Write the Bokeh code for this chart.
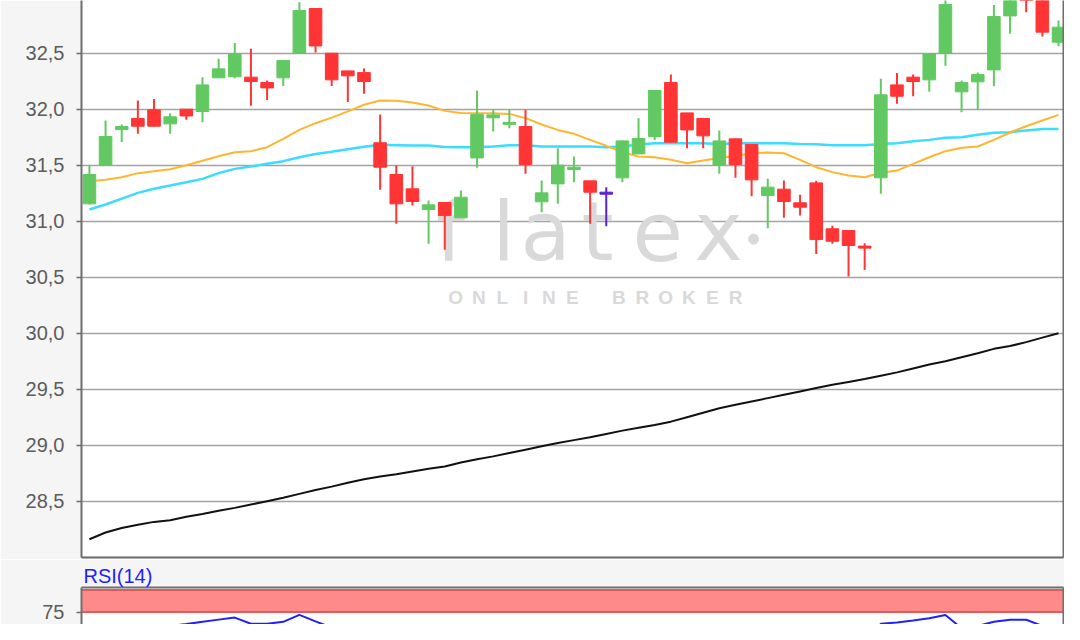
from bokeh.plotting import figure
from bokeh.layouts import column
from bokeh.models import (Range1d, FixedTicker, BoxAnnotation, Span, ColumnDataSource,
                          CustomJSTickFormatter, LinearAxis)
from bokeh.embed import file_html
from bokeh.resources import INLINE
from bokeh.core.properties import value

# ---------------- data ----------------
opens = [31.155, 31.50, 31.818, 31.917, 31.994, 31.869, 32.00, 31.979, 32.28, 32.29,
         32.286, 32.238, 32.28, 32.50, 32.899, 32.50, 32.342, 32.327, 31.70, 31.417,
         31.289, 31.104, 31.167, 31.03, 31.565, 31.923, 31.869, 31.845, 31.173, 31.333,
         31.461, 31.36, 31.25, 31.387, 31.601, 31.756, 32.238, 31.967, 31.917, 31.50,
         31.735, 31.685, 31.229, 31.286, 31.164, 31.342, 30.932, 30.917, 30.772, 31.387,
         32.217, 32.286, 32.262, 32.50, 32.155, 32.244, 32.351, 32.833, 33.15, 33.05,
         32.598]
highs = [31.505, 31.90, 31.863, 32.077, 32.092, 31.964, 32.00, 32.286, 32.45, 32.592,
         32.539, 32.256, 32.435, 32.955, 32.90, 32.50, 32.342, 32.363, 31.952, 31.50,
         31.49, 31.185, 31.167, 31.274, 32.167, 31.997, 31.997, 31.994, 31.363, 31.652,
         31.577, 31.36, 31.304, 31.72, 31.92, 32.167, 32.31, 31.967, 31.917, 31.81,
         31.735, 31.685, 31.378, 31.363, 31.235, 31.36, 30.96, 30.917, 30.804, 32.271,
         32.324, 32.31, 32.50, 33.00, 32.256, 32.327, 32.93, 33.10, 33.20, 33.10,
         32.792]
lows = [31.15, 31.50, 31.708, 31.78, 31.845, 31.78, 31.905, 31.884, 32.28, 32.277,
        32.03, 32.083, 32.208, 32.50, 32.506, 32.208, 32.065, 32.137, 31.28, 30.976,
        31.14, 30.798, 30.744, 31.03, 31.476, 31.80, 31.83, 31.423, 31.08, 31.155,
        31.348, 30.976, 30.955, 31.348, 31.60, 31.726, 31.705, 31.652, 31.652, 31.423,
        31.387, 31.223, 30.9375, 31.03, 31.05, 30.708, 30.798, 30.506, 30.565, 31.244,
        32.048, 32.116, 32.155, 32.387, 31.973, 31.994, 32.205, 32.673, 32.866, 32.649,
        32.5625]
closes = [31.417, 31.756, 31.845, 31.848, 31.848, 31.932, 31.94, 32.217, 32.36, 32.494,
          32.247, 32.19, 32.435, 32.881, 32.565, 32.262, 32.298, 32.247, 31.482, 31.155,
          31.176, 31.146, 31.05, 31.214, 31.952, 31.949, 31.878, 31.506, 31.253, 31.50,
          31.482, 31.259, 31.25, 31.717, 31.738, 32.167, 31.705, 31.815, 31.762, 31.717,
          31.506, 31.369, 31.304, 31.176, 31.125, 30.836, 30.821, 30.783, 30.765, 32.128,
          32.116, 32.247, 32.494, 32.935, 32.238, 32.31, 32.827, 33.05, 33.00, 32.688,
          32.732]

ma_orange = [31.357, 31.369, 31.393, 31.429, 31.446, 31.464, 31.50, 31.539, 31.58, 31.616,
             31.625, 31.661, 31.735, 31.815, 31.875, 31.925, 31.98, 32.04, 32.077, 32.075,
             32.06, 32.033, 31.985, 31.967, 31.964, 31.964, 31.958, 31.92, 31.863, 31.815,
             31.78, 31.726, 31.673, 31.616, 31.577, 31.571, 31.548, 31.518, 31.542, 31.565,
             31.583, 31.607, 31.613, 31.607, 31.548, 31.482, 31.438, 31.408, 31.393, 31.432,
             31.452, 31.512, 31.571, 31.625, 31.655, 31.667, 31.726, 31.792, 31.848, 31.899,
             31.949]
ma_cyan = [31.104, 31.149, 31.202, 31.253, 31.289, 31.318, 31.348, 31.378, 31.429, 31.467,
           31.488, 31.512, 31.536, 31.571, 31.60, 31.62, 31.643, 31.665, 31.682, 31.679,
           31.676, 31.676, 31.663, 31.661, 31.661, 31.667, 31.679, 31.679, 31.667, 31.667,
           31.667, 31.667, 31.661, 31.667, 31.685, 31.696, 31.696, 31.696, 31.696, 31.69,
           31.696, 31.696, 31.696, 31.696, 31.69, 31.688, 31.679, 31.679, 31.679, 31.69,
           31.696, 31.714, 31.726, 31.744, 31.75, 31.771, 31.789, 31.795, 31.81, 31.824,
           31.824]
ma_black = [28.16, 28.22, 28.26, 28.29, 28.315, 28.33, 28.36, 28.385, 28.415, 28.44,
            28.47, 28.50, 28.53, 28.565, 28.60, 28.63, 28.665, 28.695, 28.72, 28.74,
            28.765, 28.79, 28.81, 28.845, 28.875, 28.90, 28.93, 28.96, 28.99, 29.02,
            29.045, 29.07, 29.10, 29.13, 29.155, 29.18, 29.21, 29.25, 29.29, 29.33,
            29.36, 29.39, 29.42, 29.45, 29.48, 29.51, 29.54, 29.565, 29.59, 29.62,
            29.65, 29.685, 29.72, 29.75, 29.785, 29.82, 29.86, 29.885, 29.92, 29.96,
            30.00]
rsi14 = [51.6, 55.5, 59.4, 59.4, 59.4, 59.4, 61.5, 64.0, 66.5, 68.8,
         61.8, 61.8, 64.0, 71.8, 64.5, 57.5, 56.5, 55.4, 43.0, 42.0,
         41.0, 41.0, 41.5, 42.0, 54.8, 54.8, 52.0, 46.2, 43.0, 48.4,
         48.4, 43.0, 43.0, 52.4, 52.4, 60.2, 50.4, 52.4, 52.4, 50.5,
         48.5, 46.2, 43.5, 41.4, 41.0, 38.0, 35.0, 33.0, 39.5, 61.8,
         63.3, 65.5, 68.0, 71.8, 56.7, 59.4, 64.0, 66.4, 66.4, 59.4,
         59.4]

price_ticks = [28.5, 29.0, 29.5, 30.0, 30.5, 31.0, 31.5, 32.0, 32.5, 33.0]
price_grid = [28.0] + price_ticks
rsi_ticks = [75]
rsi_grid = [50]
rsi_label = "RSI(14)"
logo_letters = ["f", "l", "a", "t", "e", "x"]
logo_sub = list("ONLINE BROKER")

# ---------------- styling ----------------
GREEN = "#62c962"
RED = "#ff3434"
DOJI = "#5a22d6"
AXIS = "#6e6e6e"
GRID = "#a3a3a3"
BG = "#f5f5f5"
FONT = "Liberation Sans"
WM = "#d9d9d9"

n = len(opens)
idx = list(range(n))
colors, body_top, body_bot = [], [], []
for o, c in zip(opens, closes):
    colors.append(GREEN if c > o else (RED if c < o else DOJI))
    top, bot = max(o, c), min(o, c)
    if top - bot < 0.018:
        mid = (top + bot) / 2
        top, bot = mid + 0.009, mid - 0.009
    body_top.append(top)
    body_bot.append(bot)

src = ColumnDataSource(dict(x=idx, o=opens, h=highs, l=lows, c=closes,
                            top=body_top, bot=body_bot, col=colors))

X_RANGE = Range1d(-0.49, 60.31)


def border_axis(fig, side):
    ax = LinearAxis(ticker=FixedTicker(ticks=[]), axis_line_color=AXIS, axis_line_width=2,
                    major_tick_line_color=None, minor_tick_line_color=None,
                    major_tick_out=0, major_tick_in=0, major_label_standoff=0,
                    major_label_text_font_size="0px")
    fig.add_layout(ax, side)


def style_left_axis(ax, ticks):
    ax.ticker = FixedTicker(ticks=ticks)
    ax.axis_line_color = AXIS
    ax.axis_line_width = 2
    ax.major_tick_line_color = AXIS
    ax.major_tick_line_width = 1.5
    ax.major_tick_out = 5
    ax.major_tick_in = 0
    ax.minor_tick_line_color = None
    ax.major_label_standoff = 12
    ax.major_label_text_font = FONT
    ax.major_label_text_font_size = "20px"
    ax.major_label_text_color = "#5c5c5c"


p = figure(width=1064, height=559, output_backend="svg", toolbar_location=None,
           x_range=X_RANGE, y_range=Range1d(27.997, 32.9705),
           x_axis_location=None, min_border_left=81, min_border_right=1,
           min_border_top=0, min_border_bottom=2)
p.background_fill_color = "white"
p.border_fill_color = BG
p.outline_line_color = None
p.xgrid.visible = False
p.ygrid.ticker = FixedTicker(ticks=price_grid)
p.ygrid.grid_line_color = GRID
p.ygrid.grid_line_width = 1.6
style_left_axis(p.yaxis[0], price_ticks)
p.yaxis[0].formatter = CustomJSTickFormatter(code="return tick.toFixed(1).replace('.', ',');")
border_axis(p, "below")
border_axis(p, "right")

# watermark (logo), drawn behind everything
logo_x = [22.36, 25.64, 28.24, 31.46, 35.18, 38.95]
p.text(x=logo_x, y=[30.91] * len(logo_letters), text=logo_letters,
       text_font=value("DejaVu Sans"), text_font_size=value("82px"),
       text_color=WM, text_align="center", text_baseline="middle")
p.scatter(x=[41.12], y=[30.84], size=10, color=WM)
sub_x = [22.67 + 1.445 * k for k in range(len(logo_sub))]
p.text(x=sub_x, y=[30.319] * len(logo_sub), text=logo_sub,
       text_font=value("Liberation Sans"), text_font_size=value("19px"),
       text_font_style="bold", text_color=WM,
       text_align="center", text_baseline="middle")

# moving averages
p.line(idx, ma_black, line_color="#111111", line_width=2)
p.line(idx, ma_cyan, line_color="#3adcff", line_width=2.5)
p.line(idx, ma_orange, line_color="#ffb52e", line_width=2)

# candles
p.segment(x0="x", y0="l", x1="x", y1="h", line_color="col", line_width=2, source=src)
p.vbar(x="x", width=0.78, top="top", bottom="bot", fill_color="col",
       line_color="col", line_width=1, source=src)

# ---------------- RSI panel ----------------
r = figure(width=1064, height=65, output_backend="svg", toolbar_location=None,
           x_range=X_RANGE, y_range=Range1d(61.0, 102.8),
           x_axis_location=None, min_border_left=81, min_border_right=1,
           min_border_top=28, min_border_bottom=0)
r.background_fill_color = "white"
r.border_fill_color = BG
r.outline_line_color = None
r.xgrid.visible = False
r.ygrid.ticker = FixedTicker(ticks=rsi_grid)
r.ygrid.grid_line_color = GRID
r.ygrid.grid_line_width = 1.6
r.title.text = rsi_label
r.title.text_color = "#1f1fff"
r.title.text_font = FONT
r.title.text_font_size = "20px"
r.title.text_font_style = "normal"
r.title.align = "left"
r.title.offset = 2
r.title.standoff = 1
style_left_axis(r.yaxis[0], rsi_ticks)
border_axis(r, "above")
border_axis(r, "right")

r.add_layout(BoxAnnotation(bottom=75, top=100, fill_color="#ff8a8a", fill_alpha=1.0,
                           line_color=None, level="underlay"))
r.add_layout(Span(location=100, dimension="width", line_color="#de5c5c", line_width=2, level="underlay"))
r.add_layout(Span(location=75, dimension="width", line_color="#de5c5c", line_width=2, level="underlay"))
r.line(idx[:len(rsi14)], rsi14, line_color="#2020ff", line_width=2)

layout = column(p, r, spacing=0)
open("out.html", "w").write(file_html(layout, INLINE))
